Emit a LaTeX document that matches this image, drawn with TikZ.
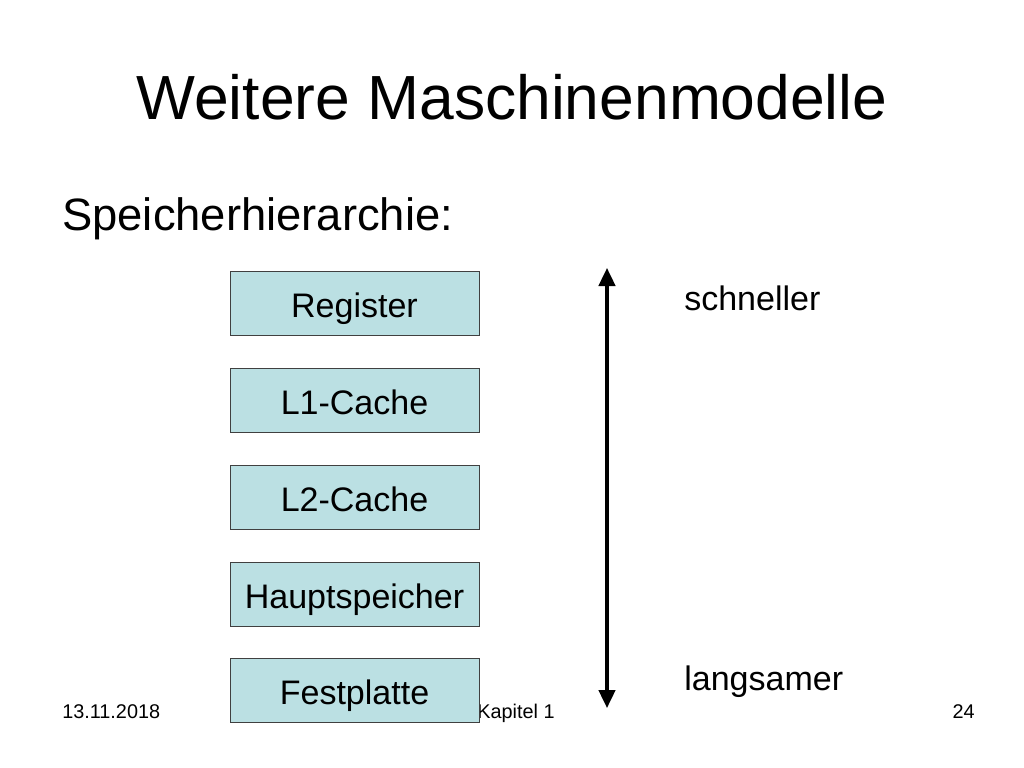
\documentclass[tikz,border=0pt]{standalone}
\usepackage{fontspec}
\setmainfont{Liberation Sans}
\usetikzlibrary{arrows.meta}
\definecolor{boxblue}{RGB}{187,224,227}
\begin{document}
\begin{tikzpicture}[
  x=0.0248cm, y=-0.0248cm,
  level/.style={rectangle, draw=black!75, fill=boxblue, text centered, inner sep=0pt,
    text height=21pt, text depth=0pt,
    minimum width=6.18cm, minimum height=1.59cm, font=\fontsize{24}{28}\selectfont},
  label/.style={anchor=base west, inner sep=0pt, font=\fontsize{24}{28}\selectfont},
  footer/.style={inner sep=0pt, font=\fontsize{14}{16}\selectfont},
  arrow/.style={{Triangle[length=12.7pt,width=11.6pt]}-{Triangle[length=12.7pt,width=11.6pt]}, line width=2.25pt}
]
\useasboundingbox (0,0) rectangle (1024,768);

% Title
\node[inner sep=0pt, anchor=base, font=\fontsize{44}{50}\selectfont] (title) at (512,120) {Weitere Maschinenmodelle};
\node[inner sep=0pt, anchor=base west, font=\fontsize{32}{38}\selectfont] (subtitle) at (62,230) {Speicherhierarchie:};

% Footer
\node[footer, anchor=base west] (date) at (62,718) {13.11.2018};
\node[footer, anchor=base] (chapter) at (516,718) {Kapitel 1};
\node[footer, anchor=base east] (page) at (975,718) {24};

% Memory levels
\node[level] (register) at (354.5,303) {Register};
\node[level] (lonecache) at (354.5,400) {L1-Cache};
\node[level] (ltwocache) at (354.5,497) {L2-Cache};
\node[level] (mainmem) at (354.5,594) {Hauptspeicher};
\node[level] (disk) at (354.5,690) {Festplatte};

% Speed arrow
\coordinate (fast) at (607,268);
\coordinate (slow) at (607,708);
\draw[arrow] (fast) -- (slow);

\node[label] (faster) at (684,310) {schneller};
\node[label] (slower) at (684,690) {langsamer};

\end{tikzpicture}
\end{document}
